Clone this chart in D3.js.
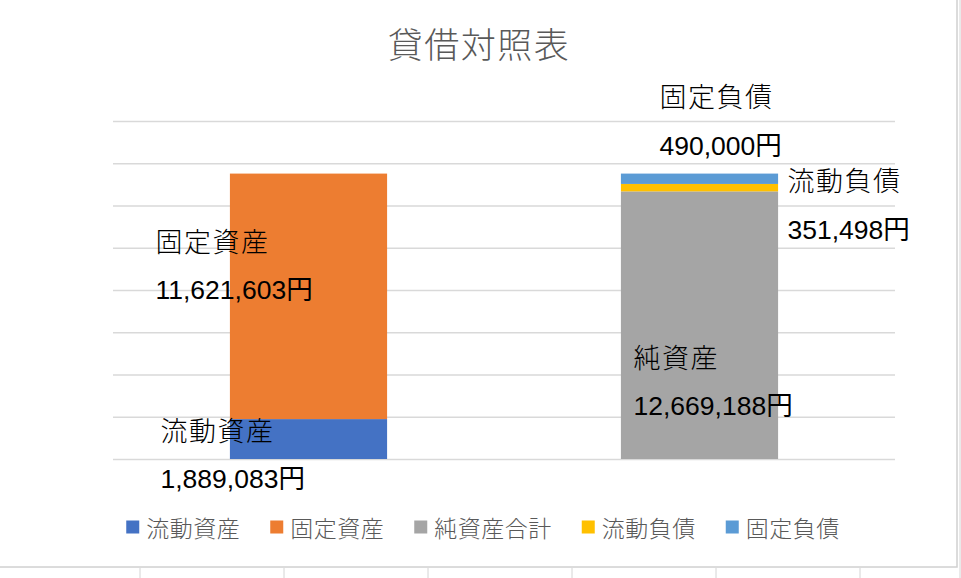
<!DOCTYPE html>
<html>
<head>
<meta charset="utf-8">
<script src="https://cdn.jsdelivr.net/npm/d3@7"></script>
<style>
  html, body { margin: 0; padding: 0; background: #fff; }
  svg { display: block; }
</style>
</head>
<body>
<div id="vis"></div>
<script>
// chart data
const title = '貸借対照表';
const categories = ['資産', '負債・純資産'];
const seriesNames = ['流動資産', '固定資産', '純資産合計', '流動負債', '固定負債'];
const labelNames = ['流動資産', '固定資産', '純資産', '流動負債', '固定負債'];
const seriesColors = ['#4472C4', '#ED7D31', '#A5A5A5', '#FFC000', '#5B9BD5'];
const values = [
    [1889083, 0],
    [11621603, 0],
    [0, 12669188],
    [0, 351498],
    [0, 490000]
];
const yMax = 16000000;
const yStep = 2000000;

// where each data label sits, relative to its segment (dx from bar centre, dy from segment middle)
const labelOffsets = [
    { dx: -148, dy: -10 },
    { dx: -153, dy: -56 },
    { dx: -66, dy: 31 },
    { dx: 88, dy: -8 },
    { dx: -40, dy: -83 }
];

const width = 961;
const height = 578;
const plot = { left: 113, right: 895, top: 121, bottom: 459 };

const svg = d3.select('#vis')
    .append('svg')
    .attr('width', width)
    .attr('height', height);

// spreadsheet cells peeking out below / right of the chart
const cellLines = [140, 284, 428, 572, 716, 860];
svg.selectAll('.cell')
    .data(cellLines)
    .enter()
    .append('line')
    .attr('x1', d => d)
    .attr('x2', d => d)
    .attr('y1', 568)
    .attr('y2', height)
    .attr('stroke', '#d4d4d4')
    .attr('stroke-width', 1);

svg.append('line')
    .attr('x1', 960).attr('x2', 960)
    .attr('y1', 0).attr('y2', height)
    .attr('stroke', '#d4d4d4');

// chart border
svg.append('rect')
    .attr('x', -2)
    .attr('y', -2)
    .attr('width', 959)
    .attr('height', 569)
    .attr('fill', '#fff')
    .attr('stroke', '#d0d0d0')
    .attr('stroke-width', 1.5);

const x = d3.scaleBand()
    .domain(categories)
    .range([plot.left, plot.right])
    .paddingInner(0.598)
    .paddingOuter(0.299);

const y = d3.scaleLinear()
    .domain([0, yMax])
    .range([plot.bottom, plot.top]);

// gridlines
const yAxis = d3.axisLeft(y)
    .tickValues(d3.range(0, yMax + 1, yStep))
    .tickSize(-(plot.right - plot.left))
    .tickFormat('');

const grid = svg.append('g')
    .attr('transform', 'translate(' + plot.left + ',0)')
    .call(yAxis);
grid.select('.domain').remove();
grid.selectAll('.tick line')
    .attr('stroke', '#d9d9d9')
    .attr('stroke-width', 1.3);

// stacked bars
const table = categories.map((c, j) => {
    const row = { category: c };
    seriesNames.forEach((s, i) => { row[s] = values[i][j]; });
    return row;
});

const stacked = d3.stack().keys(seriesNames)(table);

const layers = svg.selectAll('.layer')
    .data(stacked)
    .enter()
    .append('g')
    .attr('class', 'layer')
    .attr('fill', (d, i) => seriesColors[i]);

layers.selectAll('rect')
    .data(d => d.filter(p => p[1] - p[0] > 0))
    .enter()
    .append('rect')
    .attr('x', d => x(d.data.category))
    .attr('y', d => y(d[1]))
    .attr('width', x.bandwidth())
    .attr('height', d => y(d[0]) - y(d[1]));

// data labels: name on one line, amount below
const fmt = d3.format(',');
stacked.forEach((layer, i) => {
    layer.forEach(p => {
        if (p[1] - p[0] <= 0) return;
        const cx = x(p.data.category) + x.bandwidth() / 2 + labelOffsets[i].dx;
        const cy = (y(p[0]) + y(p[1])) / 2 + labelOffsets[i].dy;

        svg.append('text')
            .attr('x', cx)
            .attr('y', cy)
            .attr('fill', '#000')
            .attr('font-family', '"Noto Sans CJK JP", sans-serif')
            .attr('font-weight', 300)
            .attr('font-size', '27px')
            .attr('letter-spacing', '1.5px')
            .attr('dominant-baseline', 'central')
            .text(labelNames[i]);

        svg.append('text')
            .attr('x', cx)
            .attr('y', cy + 50)
            .attr('fill', '#000')
            .attr('font-family', '"Liberation Sans", "Noto Sans CJK JP", sans-serif')
            .attr('font-size', '26.5px')
            .attr('dominant-baseline', 'central')
            .text(fmt(p[1] - p[0]) + '円');
    });
});

// title
svg.append('text')
    .attr('x', 479)
    .attr('y', 42)
    .attr('fill', '#595959')
    .attr('font-family', '"Noto Sans CJK JP", sans-serif')
    .attr('font-weight', 300)
    .attr('font-size', '35px')
    .attr('letter-spacing', '1.5px')
    .attr('text-anchor', 'middle')
    .attr('dominant-baseline', 'central')
    .text(title);

// legend
const legend = svg.append('g');
let cursor = 0;
seriesNames.forEach((s, i) => {
    const g = legend.append('g');
    g.append('rect')
        .attr('x', 0)
        .attr('y', -6.5)
        .attr('width', 13)
        .attr('height', 13)
        .attr('fill', seriesColors[i]);
    const t = g.append('text')
        .attr('x', 20)
        .attr('y', 0)
        .attr('fill', '#595959')
        .attr('font-family', '"Noto Sans CJK JP", sans-serif')
        .attr('font-weight', 300)
        .attr('font-size', '23px')
        .attr('letter-spacing', '0.5px')
        .attr('dominant-baseline', 'central')
        .text(s);
    g.attr('transform', 'translate(' + cursor + ',0)');
    cursor += 20 + t.node().getComputedTextLength() + 30;
});
const legendWidth = cursor - 30;
legend.attr('transform', 'translate(' + (483 - legendWidth / 2) + ',527)');
</script>
</body>
</html>
